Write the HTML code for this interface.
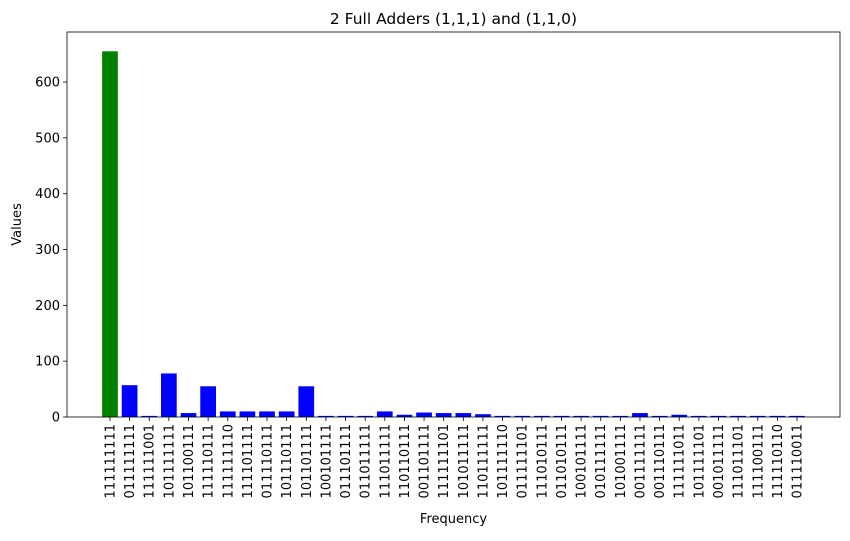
<!DOCTYPE html>
<html><head><meta charset="utf-8"><style>
body{margin:0;background:#fff;font-family:"Liberation Sans","DejaVu Sans",sans-serif}
</style></head><body>
<svg id="c" width="850" height="536" xmlns="http://www.w3.org/2000/svg" font-family="DejaVu Sans, Liberation Sans, sans-serif"></svg>
<script>
const categories=["111111111","011111111","111111001","101111111","101100111","111110111","111111110","111101111","011110111","101110111","101101111","100101111","011101111","011011111","111011111","110110111","001101111","111111101","101011111","110111111","101111110","011111101","111010111","011010111","100101111","010111111","101001111","001111111","001110111","111111011","101111101","001011111","111011101","111100111","111110110","011110011"];
const values=[655,57,2,78,7,55,10,10,10,10,55,2,2,2,10,4,8,7,7,5,2,2,2,2,2,2,2,7,2,4,2,2,2,2,2,2];
const yTicks=[0,100,200,300,400,500,600];
const L=67,R=840,T=32,B=417,ymax=689.6;
const n=categories.length;
const x0=-0.4-0.05*(n-0.2),x1=n-1+0.4+0.05*(n-0.2);
const X=i=>L+(i-x0)/(x1-x0)*(R-L);
const Y=v=>B-v/ymax*(B-T);
const svg=document.getElementById('c');
const NS="http://www.w3.org/2000/svg";
function mk(t,a,txt){const e=document.createElementNS(NS,t);for(const k in a)e.setAttribute(k,a[k]);if(txt!=null)e.textContent=txt;svg.appendChild(e);return e;}
const bw=0.8*(X(1)-X(0));
values.forEach((v,i)=>{
 const r=mk('rect',{x:X(i)-bw/2,y:Y(v),width:bw,height:B-Y(v),fill:i===0?'#008000':'#0000ff'});
 
 
 const tk=mk('line',{x1:X(i),x2:X(i),y1:B,y2:B+4,stroke:'#000','stroke-width':0.8});
 
 
 const t=mk('text',{transform:`translate(${X(i)+4.5},${B+7}) rotate(-90)`,'text-anchor':'end','font-size':13},categories[i]);
 
 
});
yTicks.forEach(v=>{
 const tk=mk('line',{x1:L-4,x2:L,y1:Y(v),y2:Y(v),stroke:'#000','stroke-width':0.8});
 
 
 const t=mk('text',{x:L-7,y:Y(v)+4.5,'text-anchor':'end','font-size':13},String(v));
 
 
});
const fr=mk('rect',{x:L,y:T,width:R-L,height:B-T,fill:'none',stroke:'#000','stroke-width':0.8});


const ti=mk('text',{x:(L+R)/2,y:24,'text-anchor':'middle','font-size':15.5},'2 Full Adders (1,1,1) and (1,1,0)');


const xl=mk('text',{x:(L+R)/2,y:523,'text-anchor':'middle','font-size':13},'Frequency');


const yl=mk('text',{transform:`translate(21,${(T+B)/2}) rotate(-90)`,'text-anchor':'middle','font-size':13},'Values');


</script>
</body></html>
